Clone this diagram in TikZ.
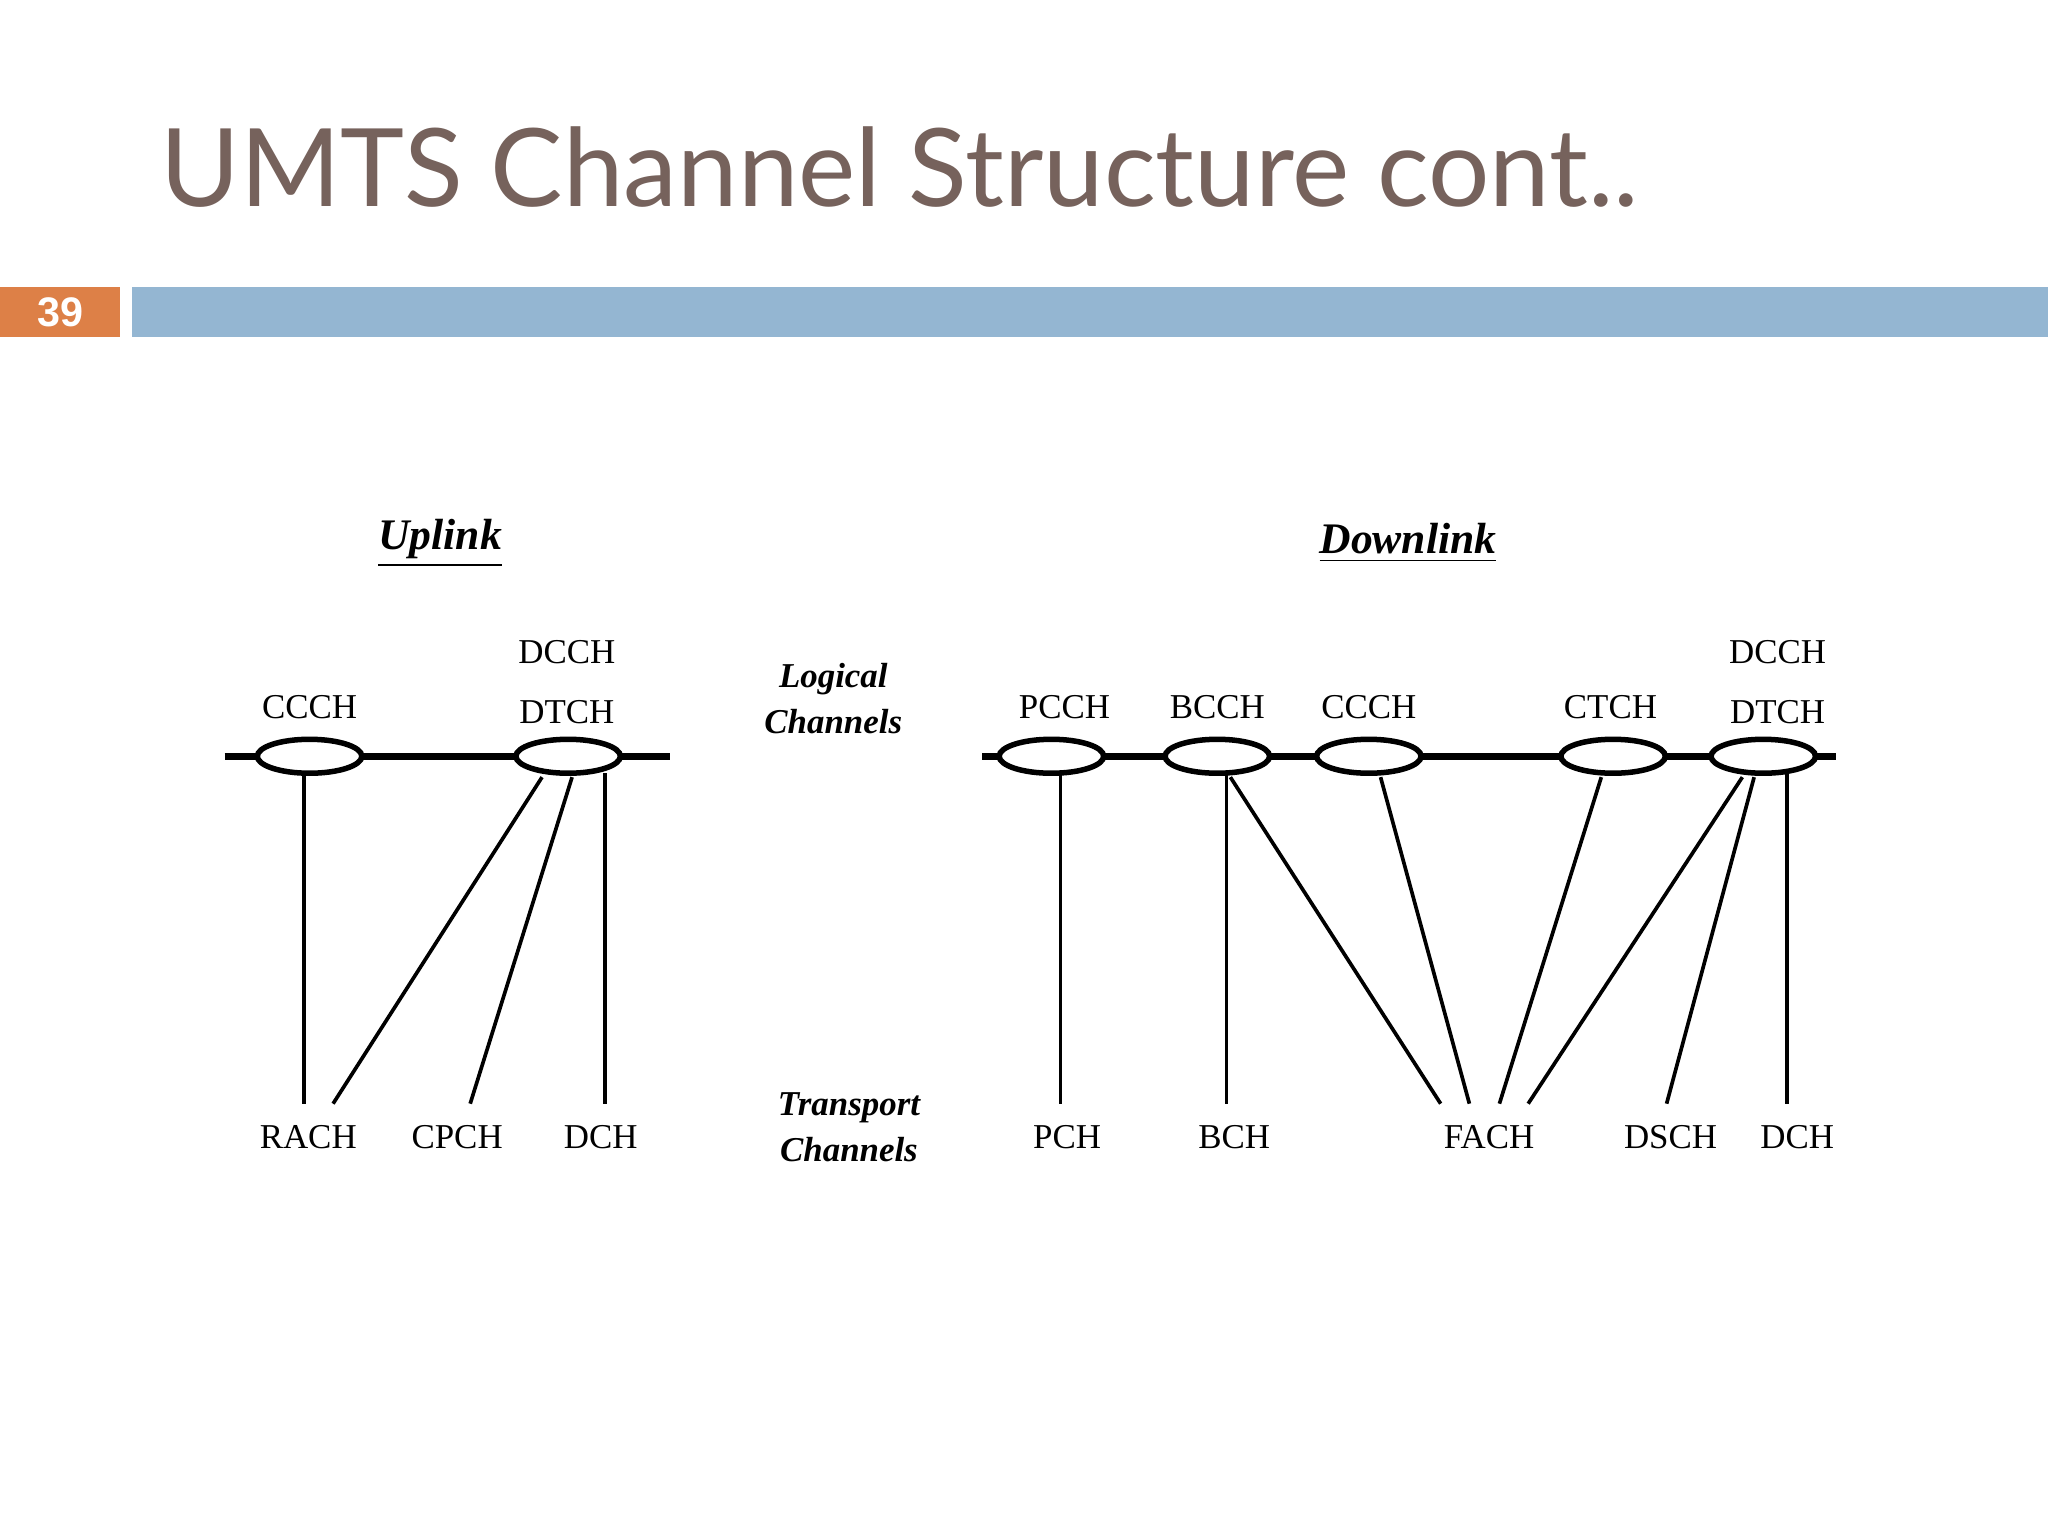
\documentclass[tikz,border=0pt]{standalone}
\usepackage{fontspec}
\setmainfont{Liberation Serif}
\newfontfamily\titlefont{Lato}
\newfontfamily\numfont{Liberation Sans}
\usetikzlibrary{shapes.geometric,calc}
\definecolor{titlec}{HTML}{76625C}
\definecolor{orangec}{HTML}{DD8047}
\definecolor{bluec}{HTML}{94B6D2}
\begin{document}
\begin{tikzpicture}[x=0.1mm,y=-0.1mm,
  lc/.style={ellipse,draw,line width=1.2pt,fill=white,minimum width=8mm,minimum height=2.6mm,inner sep=0pt},
  lbl/.style={font=\fontsize{7.6}{9}\selectfont,align=center,inner sep=0pt},
  tc/.style={font=\fontsize{7.6}{9}\selectfont,inner sep=0pt,anchor=base},
  bar/.style={line width=1.5pt},
  ln/.style={line width=0.8pt},
  head/.style={font=\bfseries\itshape\fontsize{9.5}{11}\selectfont,inner sep=0pt},
  side/.style={font=\bfseries\itshape\fontsize{7.6}{10}\selectfont,align=center,inner sep=0pt}]
\useasboundingbox (0,0) rectangle (1568,1176);
\fill[white] (0,0) rectangle (1568,1176);
\node[anchor=base west,text=titlec,font=\titlefont\fontsize{23.6}{26}\selectfont,inner sep=0pt] (title) at (122,158) {UMTS Channel Structure cont..};
\fill[orangec] (0,220) rectangle (92,258);
\node[text=white,font=\numfont\bfseries\fontsize{9}{10}\selectfont] (num) at (46,239) {39};
\fill[bluec] (101,220) rectangle (1568,258);
% headings
\node[head] (up) at (337,416) {\underline{Uplink}};
\node[head] (down) at (1078,416) {\underline{Downlink}};
\node[side] (log) at (638,535) {Logical\\Channels};
\node[side] (tr) at (650,863) {Transport\\Channels};
% bars
\draw[bar] (172,579) coordinate (ul) -- (513,579) coordinate (ur);
\draw[bar] (752,579) coordinate (dl) -- (1406,579) coordinate (dr);
% logical
\node[lc] (uccch) at (237,579) {};
\node[lc] (udcch) at (435,579) {};
\node[lc] (pcch) at (805,579) {};
\node[lc] (bcch) at (932,579) {};
\node[lc] (dccch) at (1048,579) {};
\node[lc] (ctch) at (1235,579) {};
\node[lc] (ddcch) at (1350,579) {};
\node[lbl] (t1) at (237,541) {CCCH};
\node[lbl] (t2) at (434,522) {DCCH\\[4pt]DTCH};
\node[lbl] (t3) at (815,541) {PCCH};
\node[lbl] (t4) at (932,541) {BCCH};
\node[lbl] (t5) at (1048,541) {CCCH};
\node[lbl] (t6) at (1233,541) {CTCH};
\node[lbl] (t7) at (1361,522) {DCCH\\[4pt]DTCH};
% transport
\node[tc] (rach) at (236,879) {RACH};
\node[tc] (cpch) at (350,879) {CPCH};
\node[tc] (udch) at (460,879) {DCH};
\node[tc] (pch) at (817,879) {PCH};
\node[tc] (bch) at (945,879) {BCH};
\node[tc] (fach) at (1140,879) {FACH};
\node[tc] (dsch) at (1279,879) {DSCH};
\node[tc] (ddch) at (1376,879) {DCH};
% connectors
\draw[ln] ($(uccch.center)+(-4,13)$) -- ($(rach.base)+(-3,-34)$);
\draw[ln] ($(udcch.center)+(-20,16)$) -- ($(rach.base)+(19,-34)$);
\draw[ln] ($(udcch.center)+(3,16)$) -- ($(cpch.base)+(10,-34)$);
\draw[ln] ($(udcch.center)+(28,13)$) -- ($(udch.base)+(3,-34)$);
\draw[ln] ($(pcch.center)+(7,13)$) -- ($(pch.base)+(-5,-34)$);
\draw[ln] ($(bcch.center)+(7,13)$) -- ($(bch.base)+(-6,-34)$);
\draw[ln] ($(bcch.center)+(10,16)$) -- ($(fach.base)+(-37,-34)$);
\draw[ln] ($(dccch.center)+(9,16)$) -- ($(fach.base)+(-15,-34)$);
\draw[ln] ($(ctch.center)+(-9,16)$) -- ($(fach.base)+(8,-34)$);
\draw[ln] ($(ddcch.center)+(-16,16)$) -- ($(fach.base)+(30,-34)$);
\draw[ln] ($(ddcch.center)+(-7,16)$) -- ($(dsch.base)+(-3,-34)$);
\draw[ln] ($(ddcch.center)+(18,13)$) -- ($(ddch.base)+(-8,-34)$);
\end{tikzpicture}
\end{document}
